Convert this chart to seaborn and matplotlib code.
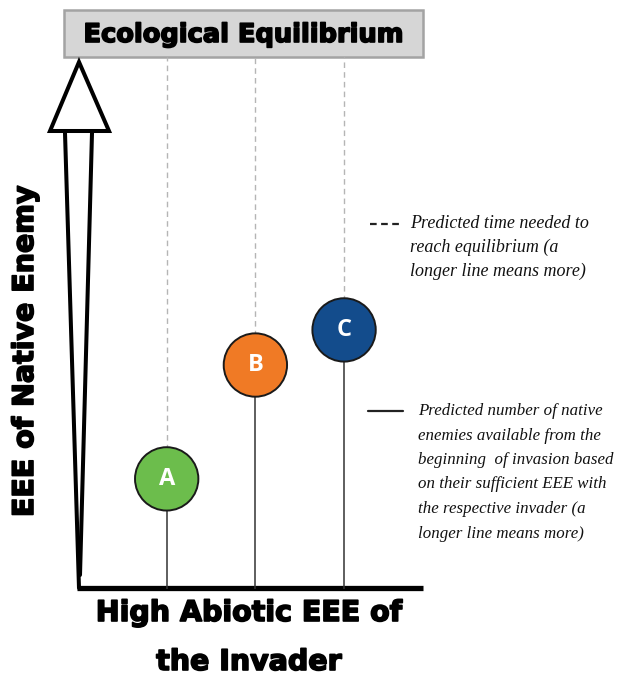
import matplotlib
matplotlib.use("Agg")
import matplotlib.pyplot as plt
import matplotlib.patheffects as pe
import seaborn as sns
import pandas as pd
from matplotlib.patches import Polygon, Rectangle

sns.set_theme(style="white")
plt.rcParams["text.color"] = "black"

# Invaders and their level of native-enemy EEE (0 = none, 100 = ecological equilibrium)
invaders = ["A", "B", "C"]
abiotic_rank = [1, 2, 3]
native_enemy_eee = [20.7, 42.1, 48.7]
circle_colors = ["#6cbd4c", "#f07a25", "#134c8c"]
equilibrium = 100

title_text = "Ecological Equilibrium"
ylabel_text = "EEE of Native Enemy"
xlabel_lines = ["High Abiotic EEE of", "the Invader"]
dashed_note = ["Predicted time needed to", "reach equilibrium (a", "longer line means more)"]
solid_note = ["Predicted number of native", "enemies available from the",
              "beginning  of invasion based", "on their sufficient EEE with",
              "the respective invader (a", "longer line means more)"]

df = pd.DataFrame({"invader": invaders, "rank": abiotic_rank, "eee": native_enemy_eee})

W, H = 618, 676
fig = plt.figure(figsize=(W / 100, H / 100), dpi=100)

# decoration layer in pixel coordinates
deco = fig.add_axes([0, 0, 1, 1])
deco.set_xlim(0, W)
deco.set_ylim(H, 0)
deco.axis("off")

# main diagram axes
ax_left, ax_right, ax_bottom, ax_top = 78, 423, 589, 57
ax = fig.add_axes([ax_left / W, 1 - ax_bottom / H, (ax_right - ax_left) / W, (ax_bottom - ax_top) / H])
ax.set_xlim(0, 3.89)
ax.set_ylim(0, equilibrium)
ax.axis("off")
ax.patch.set_alpha(0)

# solid line: enemies available, dashed line: time to equilibrium
ax.vlines(df["rank"], 0, df["eee"], color="#333333", lw=1.1, zorder=1)
ax.vlines(df["rank"], df["eee"], equilibrium, color="#b5b5b5", lw=1.0, linestyles=(0, (4, 3)), zorder=1)

sns.scatterplot(data=df, x="rank", y="eee", hue="invader", palette=circle_colors,
                s=2080, edgecolor="#1a1a1a", linewidth=1.4, legend=False, zorder=3, ax=ax)
for r, v, name in zip(df["rank"], df["eee"], df["invader"]):
    ax.text(r, v, name, color="white", fontsize=17, fontweight="bold",
            family="Open Sans", ha="center", va="center", zorder=4)

heavy = dict(fontweight="bold", family="DejaVu Sans", color="black",
             path_effects=[pe.withStroke(linewidth=1.2, foreground="black")])

# title box
deco.add_patch(Rectangle((64, 10), 359, 47, facecolor="#d6d6d6", edgecolor="#a3a3a3", lw=1.8))
deco.text(243.5, 35, title_text, fontsize=18.5, ha="center", va="center", **heavy)

# big arrow (y axis)
deco.add_patch(Polygon([(79, 62), (50, 131), (109, 131)], closed=True, facecolor="white",
                       edgecolor="black", lw=2.9, joinstyle="miter"))
deco.plot([65, 79], [133, 588], color="black", lw=2.9)
deco.plot([92, 80], [133, 575], color="black", lw=2.9)
# x axis
deco.plot([77, 423], [588, 588], color="black", lw=3.8, solid_capstyle="butt")

deco.text(25, 351, ylabel_text, rotation=90, fontsize=20.5, ha="center", va="center", **heavy)
deco.text(249, 613, xlabel_lines[0], fontsize=20.5, ha="center", va="center", **heavy)
deco.text(249, 662, xlabel_lines[1], fontsize=20.5, ha="center", va="center", **heavy)

# notes
deco.plot([370, 402], [224, 224], color="#222222", lw=1.6, linestyle=(0, (3, 2)))
for i, line in enumerate(dashed_note):
    deco.text(410, 224 + i * 23.5, line, fontsize=13, style="italic", family="Liberation Serif",
              color="#111111", ha="left", va="center")
deco.plot([368, 403], [411, 411], color="#222222", lw=1.6)
for i, line in enumerate(solid_note):
    deco.text(418, 411 + i * 24.5, line, fontsize=12.2, style="italic", family="Liberation Serif",
              color="#111111", ha="left", va="center")

fig.savefig("out.png", dpi=100)
